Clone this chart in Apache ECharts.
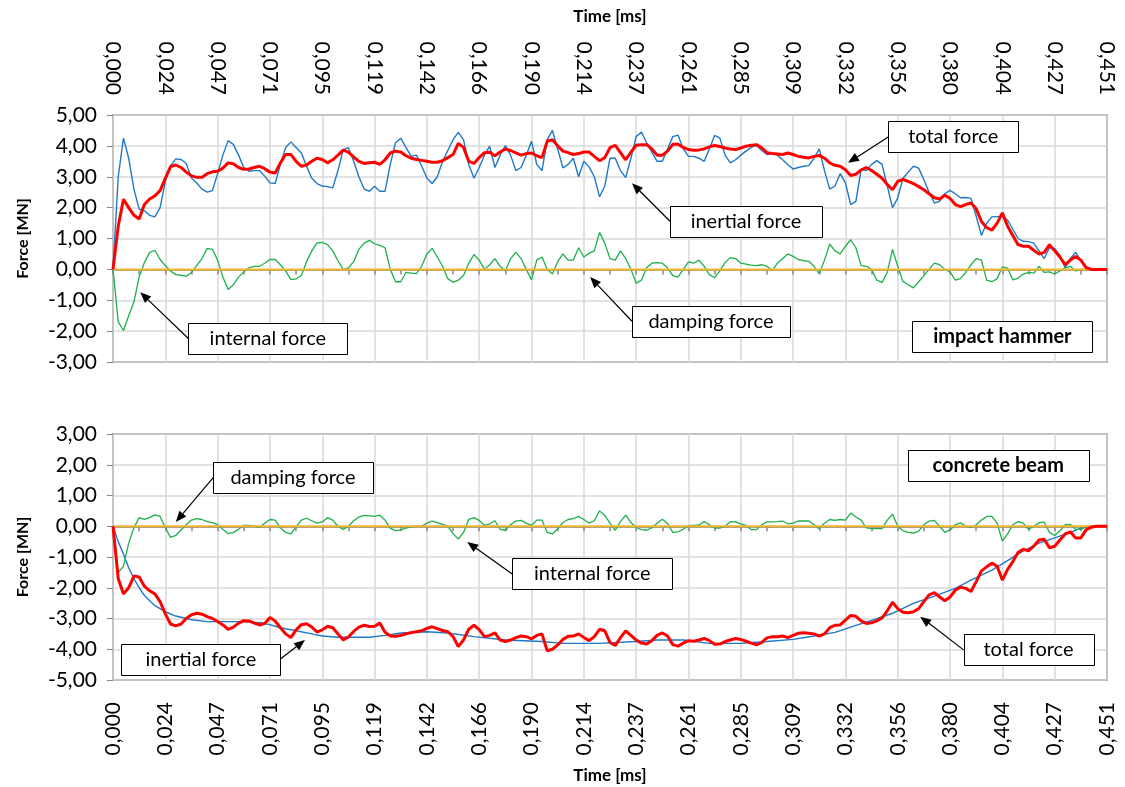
<!DOCTYPE html>
<html>
<head>
<meta charset="utf-8">
<script src="https://cdn.jsdelivr.net/npm/echarts@6/dist/echarts.min.js"></script>
<style>
    html, body { margin: 0; padding: 0; background: #fff; }
    #main { width: 1125px; height: 787px; }
</style>
</head>
<body>
<div id="main"></div>
<script>
// time step between samples [ms], 190 steps = 0,451 ms
let DT = 0.451 / 190;

// impact hammer, one value per sample step (0..190)
let hammerInertial = [
    0, 3.0, 4.25, 3.6, 2.6, 1.95, 1.9, 1.75, 1.7, 2.0,
    2.85, 3.35, 3.58, 3.56, 3.43, 2.96, 2.8, 2.6, 2.5, 2.55,
    3.1, 3.7, 4.17, 4.05, 3.7, 3.3, 3.18, 3.2, 3.2, 3.02,
    2.8, 2.78, 3.4, 3.95, 4.13, 3.95, 3.77, 3.34, 2.95, 2.78,
    2.7, 2.68, 2.64, 3.2, 3.88, 3.94, 3.5, 3.0, 2.6, 2.53,
    2.69, 2.53, 2.53, 3.4, 4.1, 4.25, 3.95, 3.66, 3.7, 3.35,
    2.96, 2.78, 3.0, 3.5, 3.85, 4.2, 4.44, 4.2, 3.4, 2.95,
    3.3, 3.7, 3.99, 3.3, 3.7, 4.01, 3.7, 3.2, 3.3, 3.7,
    4.15, 3.4, 3.2, 4.2, 4.5, 3.9, 3.29, 3.4, 3.6, 3.0,
    3.5, 3.32, 3.0, 2.35, 2.7, 3.6, 3.6, 3.2, 2.97, 3.6,
    4.3, 4.45, 4.1, 3.8, 3.5, 3.5, 3.9, 4.3, 4.35, 3.9,
    3.66, 3.66, 3.6, 3.5, 3.9, 4.34, 4.25, 3.7, 3.45, 3.55,
    3.7, 3.83, 3.95, 4.02, 3.85, 3.72, 3.75, 3.7, 3.55, 3.39,
    3.25, 3.3, 3.34, 3.36, 3.6, 3.9, 3.2, 2.6, 2.7, 3.1,
    2.8, 2.1, 2.2, 3.23, 3.2, 3.4, 3.52, 3.4, 2.7, 2.0,
    2.31, 2.95, 3.15, 3.34, 3.28, 2.9, 2.5, 2.15, 2.2, 2.45,
    2.56, 2.45, 2.32, 2.33, 2.3, 1.72, 1.1, 1.5, 1.7, 1.71,
    1.72, 1.6, 1.3, 1.0, 0.91, 0.9, 0.85, 0.6, 0.35, 0.7,
    0.68, 0.45, 0.05, 0.35, 0.55, 0.3, 0.05, 0, 0, 0, 0
];
let hammerTotal = [
    0, 1.4, 2.27, 2.0, 1.75, 1.63, 2.1, 2.28, 2.38, 2.55,
    2.95, 3.33, 3.38, 3.3, 3.15, 3.03, 2.98, 2.98, 3.1, 3.16,
    3.18, 3.28, 3.45, 3.42, 3.3, 3.24, 3.25, 3.3, 3.34, 3.26,
    3.15, 3.12, 3.45, 3.72, 3.72, 3.5, 3.34, 3.38, 3.5, 3.6,
    3.56, 3.45, 3.55, 3.7, 3.86, 3.8, 3.64, 3.5, 3.43, 3.45,
    3.47, 3.4, 3.55, 3.77, 3.83, 3.8, 3.68, 3.6, 3.56, 3.53,
    3.5, 3.47, 3.47, 3.52, 3.62, 3.72, 4.08, 3.95, 3.5, 3.43,
    3.62, 3.78, 3.79, 3.68, 3.8, 3.9, 3.85, 3.77, 3.7, 3.75,
    3.77, 3.68, 3.62, 4.15, 4.2, 4.0, 3.83, 3.78, 3.72, 3.75,
    3.8, 3.8, 3.66, 3.52, 3.62, 3.94, 4.02, 3.78, 3.55, 3.8,
    4.02, 4.04, 4.04, 3.9, 3.7, 3.7, 3.83, 4.05, 4.05, 3.95,
    3.88, 3.86, 3.87, 3.9, 3.97, 4.01, 3.98, 3.93, 3.9, 3.88,
    3.93, 3.99, 4.02, 4.04, 3.94, 3.78, 3.75, 3.74, 3.72, 3.77,
    3.72, 3.66, 3.63, 3.61, 3.66, 3.69, 3.6, 3.45, 3.37, 3.34,
    3.23, 3.04, 3.08, 3.22, 3.3, 3.2, 3.08, 2.95, 2.75, 2.58,
    2.85, 2.91, 2.85, 2.78, 2.68, 2.58, 2.45, 2.32, 2.28, 2.4,
    2.3, 2.1, 2.03, 2.1, 2.15, 1.96, 1.55, 1.35, 1.27, 1.5,
    1.83, 1.4, 1.1, 0.8, 0.75, 0.75, 0.62, 0.5, 0.55, 0.8,
    0.6, 0.4, 0.15, 0.3, 0.42, 0.3, 0.06, 0, 0, 0, 0
];
let hammerInternal = [
    0, -1.7, -1.98, -1.5, -1.05, -0.25, 0.22, 0.55, 0.62, 0.32,
    0.12, -0.05, -0.17, -0.19, -0.22, -0.1, 0.12, 0.35, 0.68, 0.65,
    0.3, -0.25, -0.65, -0.5, -0.25, -0.08, 0.05, 0.1, 0.1, 0.2,
    0.32, 0.32, 0.15, -0.05, -0.33, -0.31, -0.2, 0.25, 0.6, 0.86,
    0.87, 0.8, 0.6, 0.28, 0.0, 0.05, 0.25, 0.65, 0.85, 0.94,
    0.83, 0.78, 0.7, 0.0, -0.4, -0.4, -0.1, -0.12, -0.14, 0.1,
    0.5, 0.68, 0.4, 0.1, -0.3, -0.42, -0.35, -0.2, 0.2, 0.48,
    0.3, 0.0, 0.15, 0.35, 0.1, -0.05, 0.35, 0.55, 0.35, 0.0,
    -0.34, 0.3, 0.4, 0.0, -0.15, 0.25, 0.5, 0.3, 0.3, 0.7,
    0.4, 0.52, 0.6, 1.2, 0.85, 0.35, 0.3, 0.6, 0.35, 0.0,
    -0.45, -0.35, 0.05, 0.2, 0.22, 0.2, 0.05, -0.2, -0.25, 0.0,
    0.24, 0.2, 0.3, 0.1, -0.17, -0.27, -0.05, 0.22, 0.38, 0.35,
    0.2, 0.17, 0.14, 0.12, 0.15, 0.1, -0.04, 0.2, 0.35, 0.5,
    0.42, 0.32, 0.28, 0.26, 0.1, -0.14, 0.3, 0.82, 0.6, 0.5,
    0.75, 0.96, 0.7, 0.12, 0.1, 0.0, -0.35, -0.42, -0.1, 0.65,
    0.1, -0.39, -0.5, -0.6, -0.4, -0.2, 0.0, 0.2, 0.15, 0.0,
    -0.08, -0.35, -0.3, -0.1, 0.15, 0.35, 0.3, -0.35, -0.4, -0.3,
    0.08, 0.04, -0.34, -0.28, -0.15, -0.1, -0.12, 0.1, -0.1, -0.08,
    -0.15, -0.05, 0.05, 0.1, -0.05, 0, 0, 0, 0, 0, 0
];
let hammerDamping = [[0, 0], [190, 0]];

// concrete beam
let beamInertial = [
    [0, 0], [1, -0.5], [2, -0.9], [3, -1.35], [4, -1.7], [5, -2.0], [6, -2.25], [7, -2.42],
    [8, -2.58], [9, -2.68], [10, -2.78], [12, -2.92], [15, -3.04], [18, -3.1], [25, -3.1],
    [28, -3.14], [30, -3.2], [32, -3.3], [35, -3.4], [38, -3.5], [40, -3.57], [43, -3.61],
    [49, -3.61], [52, -3.55], [55, -3.47], [60, -3.43], [64, -3.47], [69, -3.59], [75, -3.7],
    [82, -3.75], [86, -3.81], [93, -3.81], [100, -3.75], [104, -3.7], [109, -3.7], [114, -3.81],
    [120, -3.81], [125, -3.75], [130, -3.68], [134, -3.57], [138, -3.45], [141, -3.28],
    [145, -3.06], [149, -2.83], [153, -2.51], [157, -2.27], [161, -2.02], [164, -1.75],
    [168, -1.43], [171, -1.12], [174, -0.8], [177, -0.55], [180, -0.38], [183, -0.2],
    [185, -0.06], [187, 0], [190, 0]
];
let beamTotal = [
    0, -1.7, -2.2, -2.0, -1.62, -1.65, -1.95, -2.1, -2.2, -2.45,
    -2.85, -3.18, -3.24, -3.18, -3.0, -2.88, -2.83, -2.86, -2.94, -3.0,
    -3.1, -3.21, -3.35, -3.28, -3.15, -3.07, -3.08, -3.15, -3.21, -3.16,
    -2.97, -3.08, -3.3, -3.5, -3.62, -3.37, -3.2, -3.17, -3.28, -3.44,
    -3.37, -3.25, -3.3, -3.5, -3.7, -3.6, -3.42, -3.28, -3.22, -3.26,
    -3.25, -3.15, -3.45, -3.57, -3.58, -3.55, -3.5, -3.46, -3.43, -3.4,
    -3.32, -3.27, -3.33, -3.39, -3.43, -3.59, -3.91, -3.7, -3.35, -3.22,
    -3.36, -3.59, -3.55, -3.47, -3.7, -3.75, -3.7, -3.62, -3.57, -3.59,
    -3.66, -3.55, -3.5, -4.05, -4.0, -3.86, -3.68, -3.58, -3.57, -3.5,
    -3.62, -3.72, -3.59, -3.35, -3.4, -3.78, -3.88, -3.62, -3.4, -3.55,
    -3.7, -3.8, -3.83, -3.72, -3.55, -3.47, -3.57, -3.85, -3.9, -3.8,
    -3.72, -3.74, -3.7, -3.65, -3.72, -3.84, -3.83, -3.75, -3.7, -3.65,
    -3.68, -3.74, -3.8, -3.86, -3.78, -3.63, -3.59, -3.59, -3.57, -3.62,
    -3.55, -3.48, -3.46, -3.48, -3.5, -3.57, -3.5, -3.3, -3.22, -3.21,
    -3.05, -2.9, -2.93, -3.08, -3.16, -3.14, -3.08, -2.98, -2.75, -2.47,
    -2.68, -2.8, -2.81, -2.78, -2.68, -2.45, -2.23, -2.16, -2.3, -2.42,
    -2.3, -2.08, -1.98, -2.02, -2.12, -1.8, -1.45, -1.32, -1.2, -1.3,
    -1.75, -1.4, -1.15, -0.85, -0.75, -0.8, -0.65, -0.45, -0.42, -0.7,
    -0.65, -0.45, -0.25, -0.18, -0.38, -0.38, -0.12, -0.03, 0, 0, 0
];
let beamInternal = [
    0, -1.5, -1.3, -0.55, -0.05, 0.28, 0.22, 0.28, 0.37, 0.32,
    -0.05, -0.36, -0.3, -0.12, 0.05, 0.2, 0.25, 0.22, 0.15, 0.12,
    0.05, -0.1, -0.24, -0.2, -0.1, 0.03, 0.03, 0, -0.04, 0.1,
    0.22, 0.2, -0.05, -0.2, -0.25, -0.02, 0.2, 0.26, 0.18, 0.1,
    0.14, 0.28, 0.2, 0.0, -0.1, 0.0, 0.18, 0.3, 0.35, 0.34,
    0.32, 0.36, 0.2, -0.06, -0.14, -0.12, -0.06, -0.02, 0, 0,
    0.1, 0.17, 0.12, 0.06, 0.0, -0.24, -0.42, -0.2, 0.22, 0.28,
    0.19, 0.03, 0.08, 0.18, -0.1, -0.13, 0.05, 0.17, 0.19, 0.1,
    0.03, 0.2, 0.2, -0.2, -0.25, -0.08, 0.12, 0.22, 0.25, 0.32,
    0.22, 0.1, 0.18, 0.5, 0.35, 0.1, -0.13, 0.15, 0.36, 0.12,
    -0.04, -0.11, -0.13, -0.05, 0.1, 0.23, 0.09, -0.2, -0.18, -0.1,
    0.02, 0.03, 0.04, 0.15, 0.05, -0.06, -0.06, 0, 0.15, 0.14,
    0.08, 0.03, -0.11, -0.11, 0.05, 0.14, 0.14, 0.15, 0.17, 0.08,
    0.1, 0.17, 0.17, 0.17, 0.05, -0.08, 0.1, 0.22, 0.19, 0.22,
    0.2, 0.43, 0.3, 0.2, -0.05, -0.08, -0.08, -0.08, 0.2, 0.39,
    0.0, -0.15, -0.2, -0.22, -0.16, 0.05, 0.17, 0.19, 0.0, -0.2,
    -0.12, 0.05, 0.11, 0.0, -0.04, 0.05, 0.2, 0.32, 0.32, 0.1,
    -0.48, -0.25, 0.05, 0.15, 0.1, -0.1, 0.0, 0.11, 0.14, -0.2,
    -0.3, -0.15, 0.05, 0.06, -0.1, -0.1, -0.02, 0, 0, 0, 0
];
let beamDamping = [[0, 0], [190, 0]];

// text boxes: centre and arrow target in data units (step, MN)
let callouts = [
    { grid: 0, text: 'total force', at: [160.6, 4.29], w: 130, to: [140.5, 3.45] },
    { grid: 0, text: 'inertial force', at: [121, 1.56], w: 152, to: [99.2, 2.79] },
    { grid: 0, text: 'internal force', at: [29.6, -2.24], w: 159, to: [5.2, -0.74] },
    { grid: 0, text: 'damping force', at: [114.3, -1.68], w: 158, to: [91.2, -0.25] },
    { grid: 0, text: 'impact hammer', at: [170, -2.16], w: 180, bold: true },
    { grid: 1, text: 'concrete beam', at: [169.2, 1.99], w: 181, bold: true },
    { grid: 1, text: 'damping force', at: [34.4, 1.57], w: 160, to: [12, 0.14] },
    { grid: 1, text: 'internal force', at: [91.6, -1.55], w: 160, to: [67.7, -0.51] },
    { grid: 1, text: 'inertial force', at: [16.8, -4.32], w: 159, to: [36.7, -3.7] },
    { grid: 1, text: 'total force', at: [175, -4.02], w: 130, to: [154.3, -2.94] }
];

let FONT = 'Lato, "Liberation Sans", sans-serif';
let BLUE = '#1f78c8', GREEN = '#1db04b', GOLD = '#f2b52b', RED = '#ff0000';

function withStep(arr) {
    return arr.map((v, i) => [i, v]);
}
function fmtTime(v) {
    return (v * DT).toFixed(3).replace('.', ',');
}
function fmtForce(v) {
    return v.toFixed(2).replace('.', ',');
}

function labelAxis(grid, pos, margin) {
    return {
        type: 'value', gridIndex: grid, position: pos,
        min: 0, max: 190, interval: 10,
        name: 'Time [ms]', nameLocation: 'middle', nameGap: pos == 'top' ? 90 : 87,
        nameTextStyle: { fontFamily: FONT, fontWeight: 'bold', fontSize: 17, color: '#000' },
        axisLine: { show: false, onZero: false },
        axisTick: { show: false },
        axisLabel: { rotate: 90, margin: margin, fontFamily: FONT, fontSize: 21, color: '#000', formatter: fmtTime },
        splitLine: { show: true, lineStyle: { color: '#d9d9d9', width: 1.5 } }
    };
}
// the x axis line that crosses at 0 MN, minor ticks every 5 steps
function zeroAxis(grid) {
    return {
        type: 'value', gridIndex: grid, position: 'bottom',
        min: 0, max: 190, interval: 5,
        axisLine: { show: true, onZero: true, lineStyle: { color: '#868686', width: 1.5 } },
        axisTick: { show: true, length: 5, lineStyle: { color: '#868686', width: 1.5 } },
        axisLabel: { show: false },
        splitLine: { show: false }
    };
}
function forceAxis(grid, min, max) {
    return {
        type: 'value', gridIndex: grid, min: min, max: max, interval: 1,
        name: 'Force [MN]', nameLocation: 'middle', nameRotate: 90, nameGap: 82,
        nameTextStyle: { fontFamily: FONT, fontWeight: 'bold', fontSize: 16, color: '#000' },
        axisLine: { show: false },
        axisTick: { show: true, length: 6, lineStyle: { color: '#868686' } },
        axisLabel: { margin: 16, fontFamily: FONT, fontSize: 21, color: '#000', formatter: fmtForce },
        splitLine: { show: true, lineStyle: { color: '#d9d9d9', width: 1.5 } }
    };
}
function line(name, xi, yi, data, color, width) {
    return {
        name: name, type: 'line', xAxisIndex: xi, yAxisIndex: yi, data: data,
        showSymbol: false, symbol: 'none', silent: true,
        lineStyle: { color: color, width: width }
    };
}

let chart = echarts.init(document.getElementById('main'));
let gridStyle = { show: true, borderColor: '#595959', borderWidth: 1.5, backgroundColor: '#fff' };

chart.setOption({
    animation: false,
    backgroundColor: '#fff',
    grid: [
        Object.assign({ left: 113, top: 115, width: 994, height: 247 }, gridStyle),
        Object.assign({ left: 113, top: 434, width: 994, height: 246 }, gridStyle)
    ],
    xAxis: [labelAxis(0, 'top', 20), zeroAxis(0), labelAxis(1, 'bottom', 22), zeroAxis(1)],
    yAxis: [forceAxis(0, -3, 5), forceAxis(1, -5, 3)],
    series: [
        line('inertial force', 0, 0, withStep(hammerInertial), BLUE, 1.4),
        line('internal force', 0, 0, withStep(hammerInternal), GREEN, 1.3),
        line('damping force', 0, 0, hammerDamping, GOLD, 2),
        line('total force', 0, 0, withStep(hammerTotal), RED, 3),
        line('inertial force', 2, 1, beamInertial, BLUE, 1.4),
        line('internal force', 2, 1, withStep(beamInternal), GREEN, 1.3),
        line('damping force', 2, 1, beamDamping, GOLD, 2),
        line('total force', 2, 1, withStep(beamTotal), RED, 3)
    ]
});

// boxes and arrows placed from data coordinates
let gfx = [];
callouts.forEach((c) => {
    let p = chart.convertToPixel({ gridIndex: c.grid }, c.at);
    let h = 31;
    gfx.push({
        type: 'rect', z: 100,
        shape: { x: Math.round(p[0] - c.w / 2) + 0.5, y: Math.round(p[1] - h / 2) + 0.5, width: c.w, height: h },
        style: { fill: '#fff', stroke: '#000', lineWidth: 1 }
    });
    gfx.push({
        type: 'text', z: 101, x: p[0], y: p[1],
        style: {
            text: c.text, fill: '#000', align: 'center', verticalAlign: 'middle',
            font: (c.bold ? 'bold ' : '') + '20px ' + FONT
        }
    });
    if (!c.to) return;
    let t = chart.convertToPixel({ gridIndex: c.grid }, c.to);
    let sx = t[0] < p[0] ? p[0] - c.w / 2 : p[0] + c.w / 2;
    let sy = p[1];
    let dx = t[0] - sx, dy = t[1] - sy;
    let len = Math.sqrt(dx * dx + dy * dy);
    let ux = dx / len, uy = dy / len;
    let bx = t[0] - ux * 11, by = t[1] - uy * 11;
    gfx.push({
        type: 'line', z: 99,
        shape: { x1: sx, y1: sy, x2: bx, y2: by },
        style: { stroke: '#000', lineWidth: 1.2 }
    });
    gfx.push({
        type: 'polygon', z: 99,
        shape: { points: [[t[0], t[1]], [bx - uy * 4.5, by + ux * 4.5], [bx + uy * 4.5, by - ux * 4.5]] },
        style: { fill: '#000' }
    });
});
chart.setOption({ graphic: gfx });
</script>
</body>
</html>
